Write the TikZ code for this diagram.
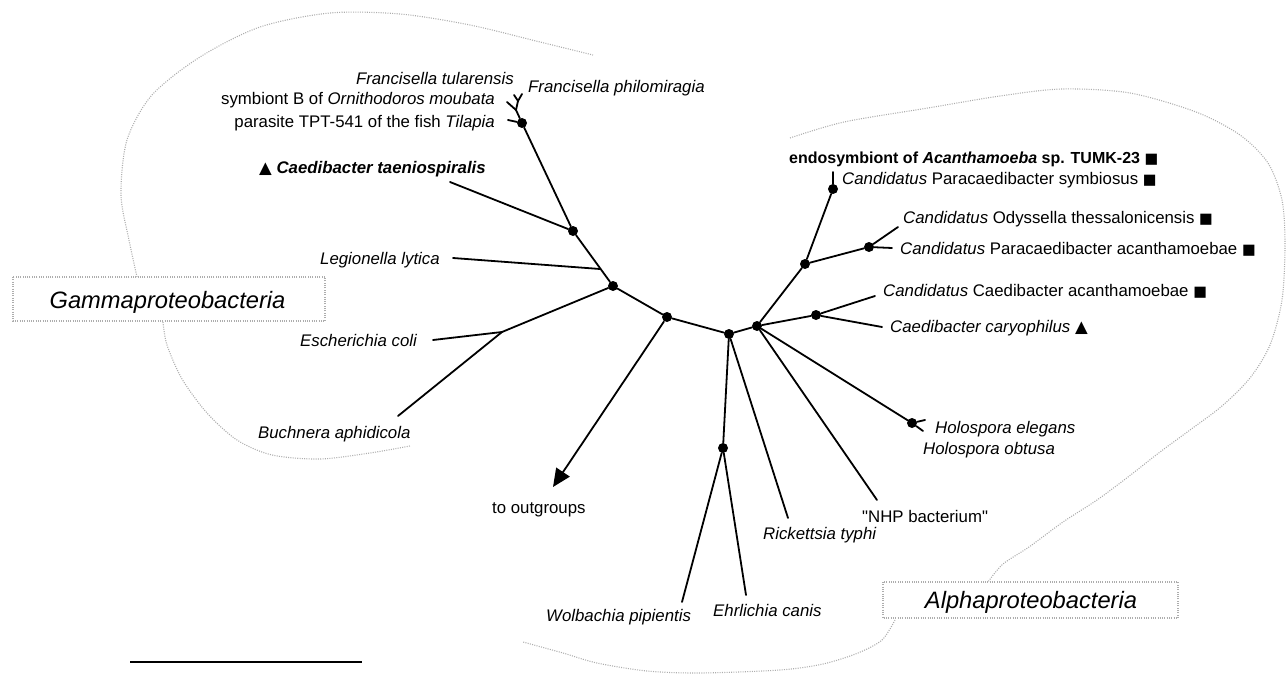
\documentclass[tikz,border=0pt]{standalone}
\usepackage{fontspec}
\setmainfont{Liberation Sans}
\newfontfamily\plainf{Liberation Sans}
\newfontfamily\symf{DejaVu Sans}
\newcommand{\sqm}{{\fontsize{14.5}{17}\symf ■}}
\newcommand{\trm}{{\fontsize{16.5}{19}\symf ▲}}
\usetikzlibrary{arrows.meta}
\begin{document}
\begin{tikzpicture}[x=1pt,y=-1pt,
  br/.style={line width=1.8pt, line cap=round},
  dot/.style={circle, fill=black, inner sep=0pt, minimum size=10pt},
  lab/.style={font=\fontsize{16.8}{20}\selectfont, inner sep=0pt, anchor=base west},
  labr/.style={lab, anchor=base east},
  big/.style={font=\fontsize{23.7}{28}\selectfont\itshape, inner sep=0pt, anchor=base},
  blob/.style={draw=black!32, line width=1.1pt, dash pattern=on 1pt off 1.3pt},
]
\useasboundingbox (0,0) rectangle (1286,674);

% ---------- gray group outlines ----------
\draw[blob] (13,277) rectangle (325,321);
\draw[blob] (883,582) rectangle (1178,618);
\draw[blob] plot[smooth] coordinates {(137,277) (129,240) (121,195) (127,140) (152,95) (200,57) (260,27) (330,13) (400,14) (470,25) (540,42) (593,55)};
\draw[blob] plot[smooth] coordinates {(163,322) (167,345) (182,379) (207,413) (237,440) (272,455) (320,459) (370,453) (410,446)};
\draw[blob] plot[smooth] coordinates {(790,138) (844,122) (928,108) (1000,96) (1062,89) (1130,93) (1196,112) (1240,135) (1268,163) (1282,200) (1285,245) (1282,300) (1270,345) (1250,378) (1222,406) (1190,430) (1160,452) (1128,477) (1097,500) (1063,522) (1029,547) (1003,564) (988,582)};
\draw[blob] plot[smooth] coordinates {(895,620) (882,640) (858,653) (823,664) (780,670) (700,673) (647,671) (597,663) (563,653) (523,642)};

% ---------- internal nodes ----------
\node[dot] (gD) at (667,317) {};
\node[dot] (g1) at (613,286) {};
\node[dot] (g2) at (573,231) {};
\node[dot] (fr) at (522,123) {};
\node[dot] (aC) at (729,334) {};
\node[dot] (aB) at (757,326) {};
\node[dot] (we) at (723,448) {};
\node[dot] (ho) at (912,423) {};
\node[dot] (cc) at (816,315) {};
\node[dot] (aA) at (805,264) {};
\node[dot] (op) at (869,247) {};
\node[dot] (sy) at (833,189) {};

\coordinate (legj) at (600,269);
\coordinate (ej) at (502,332);
\coordinate (f1) at (516,110);
\coordinate (f2) at (518,101);

% tips
\coordinate (tTaen) at (450,182);
\coordinate (tLeg) at (453,258);
\coordinate (tEco) at (433,340);
\coordinate (tBuc) at (398,416);
\coordinate (tPar) at (508,120);
\coordinate (tSym) at (507,102);
\coordinate (tTul) at (514,95);
\coordinate (tPhi) at (522,94);
\coordinate (tOut) at (553,487);
\coordinate (tWol) at (682,602);
\coordinate (tEhr) at (746,595);
\coordinate (tRic) at (788,518);
\coordinate (tNHP) at (877,500);
\coordinate (tHe) at (925,420);
\coordinate (tHo) at (923,431);
\coordinate (tCa) at (875,296);
\coordinate (tCc) at (882,327);
\coordinate (tOd) at (898,227);
\coordinate (tPa) at (892,248);
\coordinate (tSy) at (833,172);

% ---------- branches ----------
\draw[br] (gD) -- (g1);
\draw[br] (g1) -- (g2);
\draw[br] (g2) -- (fr);
\draw[br] (g2) -- (tTaen);
\draw[br] (tLeg) -- (legj);
\draw[br] (g1) -- (ej);
\draw[br] (ej) -- (tEco);
\draw[br] (ej) -- (tBuc);
\draw[br] (fr) -- (tPar);
\draw[br] (fr) -- (f1);
\draw[br] (f1) -- (tSym);
\draw[br] (f1) -- (f2);
\draw[br] (f2) -- (tTul);
\draw[br] (f2) -- (tPhi);
\draw[line width=1.8pt, -{Triangle[length=18pt,width=16pt]}] (gD) -- (tOut);
\draw[br] (gD) -- (aC);
\draw[br] (aC) -- (aB);
\draw[br] (aC) -- (we);
\draw[br] (we) -- (tWol);
\draw[br] (we) -- (tEhr);
\draw[br] (aC) -- (tRic);
\draw[br] (aB) -- (tNHP);
\draw[br] (aB) -- (ho);
\draw[br] (ho) -- (tHe);
\draw[br] (ho) -- (tHo);
\draw[br] (aB) -- (cc);
\draw[br] (cc) -- (tCa);
\draw[br] (cc) -- (tCc);
\draw[br] (aB) -- (aA);
\draw[br] (aA) -- (op);
\draw[br] (op) -- (tOd);
\draw[br] (op) -- (tPa);
\draw[br] (aA) -- (sy);
\draw[br] (sy) -- (tSy);

% ---------- labels ----------
\node[labr] (lTul) at (514,85) {\itshape Francisella tularensis};
\node[lab] (lPhi) at (528,93) {\itshape Francisella philomiragia};
\node[labr] (lSym) at (495,105) {symbiont B of \textit{Ornithodoros moubata}};
\node[labr] (lPar) at (495,128) {parasite TPT-541 of the fish \textit{Tilapia}};
\node[lab] (lTaen) at (259,174) {\trm{} \textbf{\textit{Caedibacter taeniospiralis}}};
\node[lab] (lLeg) at (320,264) {\itshape Legionella lytica};
\node[lab] (lEco) at (300,346) {\itshape Escherichia coli};
\node[lab] (lBuc) at (258,438) {\itshape Buchnera aphidicola};
\node[lab] (lOut) at (492,513) {to outgroups};
\node[lab] (lWol) at (546,621) {\itshape Wolbachia pipientis};
\node[lab] (lEhr) at (713,616) {\itshape Ehrlichia canis};
\node[lab] (lRic) at (763,539) {\itshape Rickettsia typhi};
\node[lab] (lNHP) at (862,522) {\plainf "NHP bacterium"};
\node[lab] (lHe) at (935,433) {\itshape Holospora elegans};
\node[lab] (lHo) at (923,454) {\itshape Holospora obtusa};
\node[lab] (lCc) at (890,332) {\textit{Caedibacter caryophilus} \trm};
\node[lab] (lCa) at (883,296) {\textit{Candidatus} Caedibacter acanthamoebae \sqm};
\node[lab] (lPa) at (900,254) {\textit{Candidatus} Paracaedibacter acanthamoebae \sqm};
\node[lab] (lOd) at (903,223) {\textit{Candidatus} Odyssella thessalonicensis \sqm};
\node[lab] (lSy) at (842,185) {\textit{Candidatus} Paracaedibacter symbiosus \sqm};
\node[lab, font=\fontsize{16}{19}\selectfont] (lEnd) at (789,164) {\textbf{endosymbiont of \textit{Acanthamoeba} sp. TUMK-23} \sqm};

\node[big] (lGam) at (167.5,308) {Gammaproteobacteria};
\node[big] (lAlp) at (1031,608.5) {Alphaproteobacteria};

% scale bar
\coordinate (sb1) at (130,662);
\coordinate (sb2) at (362,662);
\draw[line width=2pt] (sb1) -- (sb2);
\end{tikzpicture}
\end{document}
